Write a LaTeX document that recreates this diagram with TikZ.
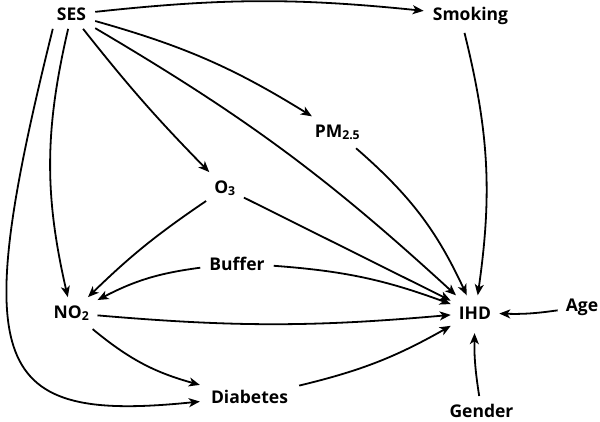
\documentclass[tikz,border=0pt]{standalone}
\usepackage{fontspec}
\setmainfont{Open Sans}
\usetikzlibrary{arrows.meta}
\begin{document}
\begin{tikzpicture}[x=1pt,y=-1pt,
  lbl/.style={font=\bfseries\fontsize{17.5}{20}\selectfont, inner sep=8pt, anchor=base},
  edge/.style={line width=1.8pt, -{Stealth[length=11pt,width=9pt,inset=3pt]}}]
\useasboundingbox (0,0) rectangle (600,421);
\node[lbl, inner xsep=9pt] (ses) at (71.5,20.5) {SES};
\node[lbl, inner xsep=9pt] (smoking) at (470.5,20.5) {Smoking};
\node[lbl] (pm) at (337.5,137) {PM\textsubscript{2.5}};
\node[lbl] (o3) at (225,193) {O\textsubscript{3}};
\node[lbl, inner xsep=9pt] (buffer) at (237,270) {Buffer};
\node[lbl] (no2) at (71.5,318) {NO\textsubscript{2}};
\node[lbl, inner xsep=11pt] (diab) at (249.5,403) {Diabetes};
\node[lbl, inner ysep=11pt] (ihd) at (475,319) {IHD};
\node[lbl] (age) at (582,311) {Age};
\node[lbl] (gender) at (481.5,417.5) {Gender};
\draw[edge] (ses) to[bend left=6] (smoking);
\draw[edge] (ses) to[bend left=8] (pm);
\draw[edge] (ses) to[bend left=6] (ihd);
\draw[edge] (ses) to[bend right=3] (o3);
\draw[edge] (ses) to[bend right=13] (no2);
\draw[edge] (ses.218) .. controls (-32,370) and (-9,423) .. (diab);
\draw[edge] ([xshift=-6pt]smoking.south) to[bend left=11] (ihd);
\draw[edge] (pm) to[bend left=12] (ihd);
\draw[edge] (o3) -- (ihd);
\draw[edge] (o3) to[bend right=5] (no2);
\draw[edge] (buffer) to[bend left=8] (ihd);
\draw[edge] (buffer) to[bend right=10] (no2);
\draw[edge] (no2) to[bend right=5] (ihd);
\draw[edge] (no2) to[bend right=12] (diab);
\draw[edge] (diab) to[bend right=8] (ihd);
\draw[edge] (age) to[bend left=5] (ihd);
\draw[edge, shorten >=3pt] (gender) to[bend left=5] (ihd);
\end{tikzpicture}
\end{document}
